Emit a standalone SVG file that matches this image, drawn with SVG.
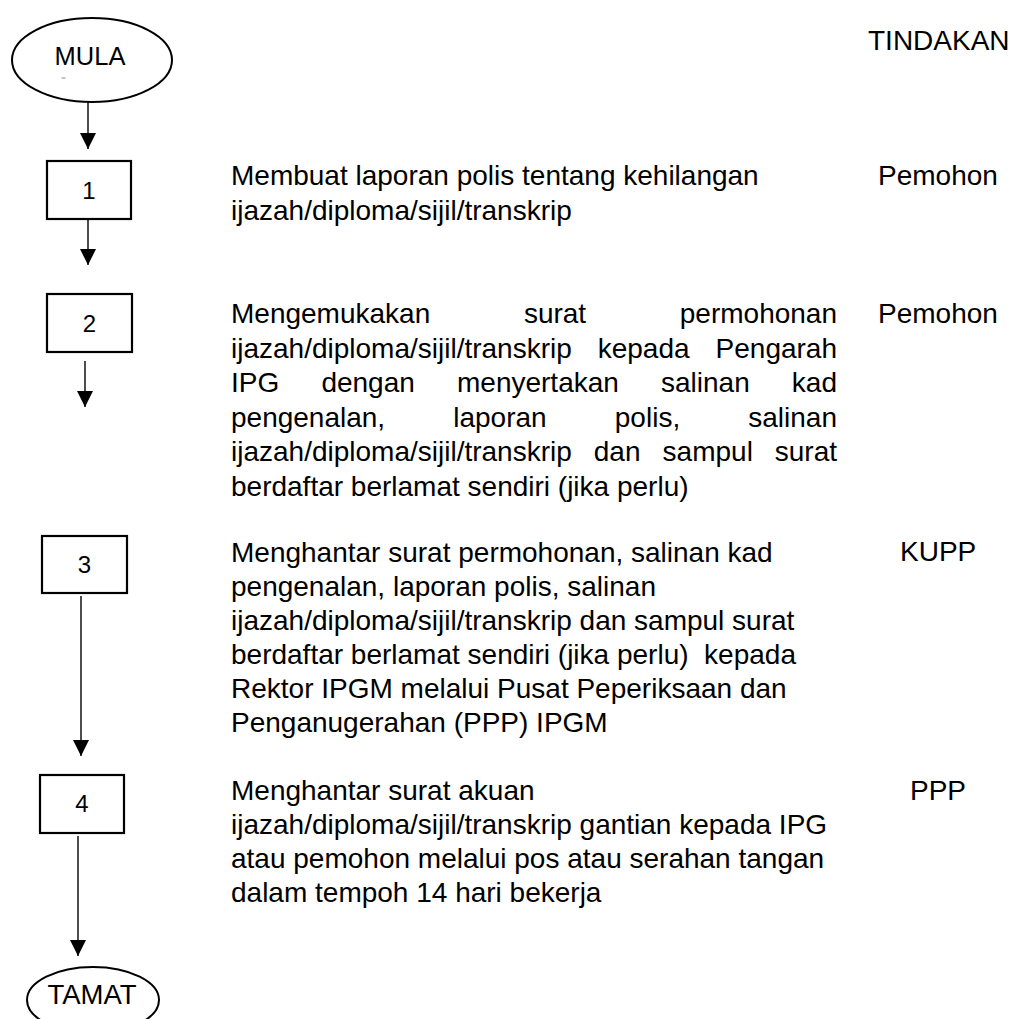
<svg xmlns="http://www.w3.org/2000/svg" width="1013" height="1019" viewBox="0 0 1013 1019">
<defs>
<style>
text{font-family:"Liberation Sans",Arial,sans-serif;fill:#000}
.t{font-size:28px}
.n{font-size:24px;text-anchor:middle}
.box{fill:#fff;stroke:#000;stroke-width:2.2}
.term{fill:#fff;stroke:#000;stroke-width:2}
.con line{stroke:#000;stroke-width:1.4;marker-end:url(#ah)}
</style>
<marker id="ah" viewBox="0 0 16 16" refX="16" refY="8" markerWidth="16" markerHeight="16" markerUnits="userSpaceOnUse" orient="auto">
<path d="M0,0 L16,8 L0,16 Z" fill="#000"/>
</marker>
</defs>
<rect width="1013" height="1019" fill="#fff"/>

<g id="connectors" class="con">
<line x1="88" y1="102" x2="88" y2="149"/>
<line x1="88" y1="219" x2="88" y2="265"/>
<line x1="85" y1="361" x2="85" y2="407"/>
<line x1="81" y1="596" x2="81" y2="756"/>
<line x1="78" y1="836" x2="78" y2="956"/>
</g>

<g id="mula">
<ellipse class="term" cx="92" cy="60" rx="80" ry="42"/>
<text x="90" y="65" style="font-size:25.5px;text-anchor:middle">MULA</text>
<line x1="61.5" y1="78" x2="65.5" y2="78" stroke="#888" stroke-width="1"/>
</g>

<g id="step1">
<rect class="box" x="47" y="161" width="84" height="58"/>
<text class="n" x="89" y="199">1</text>
</g>
<g id="step2">
<rect class="box" x="47" y="294" width="85" height="58"/>
<text class="n" x="89.5" y="332">2</text>
</g>
<g id="step3">
<rect class="box" x="42" y="536" width="85" height="57"/>
<text class="n" x="84.5" y="573">3</text>
</g>
<g id="step4">
<rect class="box" x="40" y="775" width="84" height="58"/>
<text class="n" x="82" y="812">4</text>
</g>

<g id="tamat">
<ellipse class="term" cx="93" cy="1000" rx="66" ry="33"/>
<text x="92" y="1004" style="font-size:27.5px;text-anchor:middle">TAMAT</text>
</g>

<g id="header">
<text class="t" x="868" y="50">TINDAKAN</text>
</g>

<g id="desc1">
<text class="t" x="231" y="185">Membuat laporan polis tentang kehilangan</text>
<text class="t" x="231" y="219.5">ijazah/diploma/sijil/transkrip</text>
<text class="t" x="878" y="185">Pemohon</text>
</g>

<g id="desc2">
<text class="t" y="323"><tspan x="231">Mengemukakan</tspan><tspan x="523.9">surat</tspan><tspan x="837" text-anchor="end">permohonan</tspan></text>
<text class="t" y="357.5"><tspan x="231">ijazah/diploma/sijil/transkrip</tspan><tspan x="597.7">kepada</tspan><tspan x="837" text-anchor="end">Pengarah</tspan></text>
<text class="t" y="392"><tspan x="231">IPG</tspan><tspan x="321.4">dengan</tspan><tspan x="457">menyertakan</tspan><tspan x="661">salinan</tspan><tspan x="837" text-anchor="end">kad</tspan></text>
<text class="t" y="426.5"><tspan x="231">pengenalan,</tspan><tspan x="453.2">laporan</tspan><tspan x="614.8">polis,</tspan><tspan x="837" text-anchor="end">salinan</tspan></text>
<text class="t" y="461"><tspan x="231">ijazah/diploma/sijil/transkrip</tspan><tspan x="593.8">dan</tspan><tspan x="662.6">sampul</tspan><tspan x="837" text-anchor="end">surat</tspan></text>
<text class="t" x="231" y="495.5">berdaftar berlamat sendiri (jika perlu)</text>
<text class="t" x="878" y="323">Pemohon</text>
</g>

<g id="desc3">
<text class="t" x="231" y="562">Menghantar surat permohonan, salinan kad</text>
<text class="t" x="231" y="596">pengenalan, laporan polis, salinan</text>
<text class="t" x="231" y="630">ijazah/diploma/sijil/transkrip dan sampul surat</text>
<text class="t" x="231" y="664" style="white-space:pre">berdaftar berlamat sendiri (jika perlu)  kepada</text>
<text class="t" x="231" y="698">Rektor IPGM melalui Pusat Peperiksaan dan</text>
<text class="t" x="231" y="732">Penganugerahan (PPP) IPGM</text>
<text class="t" x="900" y="561">KUPP</text>
</g>

<g id="desc4">
<text class="t" x="231" y="800">Menghantar surat akuan</text>
<text class="t" x="231" y="834">ijazah/diploma/sijil/transkrip gantian kepada IPG</text>
<text class="t" x="231" y="868">atau pemohon melalui pos atau serahan tangan</text>
<text class="t" x="231" y="902">dalam tempoh 14 hari bekerja</text>
<text class="t" x="910" y="800">PPP</text>
</g>
</svg>
